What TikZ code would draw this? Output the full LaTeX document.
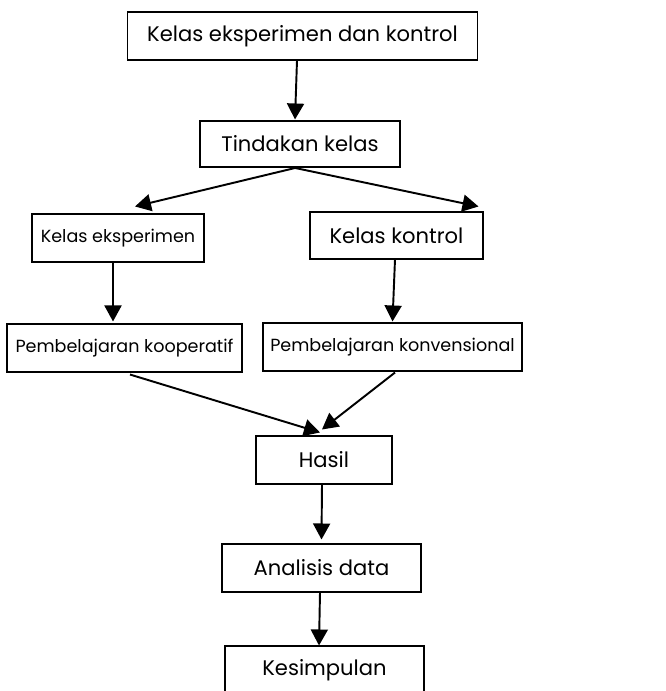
\documentclass[tikz,border=0pt]{standalone}
\usepackage{fontspec}
\setmainfont{Poppins}
\usetikzlibrary{arrows.meta}

\begin{document}
\begin{tikzpicture}[x=0.02cm,y=-0.02cm,
    box/.style={draw,line width=0.6pt,inner sep=0pt,minimum height=0.96cm,
      font=\fontsize{12}{14}\selectfont},
    smallbox/.style={box,font=\fontsize{10}{12}\selectfont},
    arr/.style={-{Triangle[length=0.32cm,width=0.34cm]},line width=1.1pt}]
    \useasboundingbox (0,0) rectangle (666,691);
    \node[box,minimum width=7.02cm] (kelas) at (302.5,36) {Kelas eksperimen dan kontrol};
    \node[box,minimum width=4cm,minimum height=0.92cm] (tindakan) at (300,144) {Tindakan kelas};
    \node[smallbox,minimum width=3.44cm] (eksperimen) at (118,238) {Kelas eksperimen};
    \node[box,minimum width=3.46cm,minimum height=0.94cm] (kontrol) at (396.5,235.5) {Kelas kontrol};
    \node[smallbox,minimum width=4.7cm] (kooperatif) at (124.5,348) {Pembelajaran kooperatif};
    \node[smallbox,minimum width=5.18cm] (konvensional) at (392.5,347) {Pembelajaran konvensional};
    \node[box,minimum width=2.72cm] (hasil) at (324,460) {Hasil};
    \node[box,minimum width=3.98cm] (analisis) at (321.5,568) {Analisis data};
    \node[box,minimum width=3.98cm] (kesimpulan) at (324.5,670) {Kesimpulan};
    \draw[arr] ([xshift=-0.11cm]kelas.south) -- ([xshift=-0.1cm,yshift=0.02cm]tindakan.north);
    \draw[arr] ([xshift=-0.06cm]tindakan.south) -- ([xshift=0.34cm,yshift=0.14cm]eksperimen.north);
    \draw[arr] ([xshift=-0.14cm]tindakan.south) -- ([xshift=-0.1cm,yshift=0.1cm]kontrol.north east);
    \draw[arr] ([xshift=-0.1cm]eksperimen.south) -- ([xshift=-0.23cm,yshift=0.04cm]kooperatif.north);
    \draw[arr] ([xshift=-0.03cm]kontrol.south) -- ([yshift=0.02cm]konvensional.north);
    \draw[arr] ([xshift=0.11cm,yshift=-0.04cm]kooperatif.south) -- ([xshift=-0.08cm,yshift=0.06cm]hasil.north);
    \draw[arr] ([xshift=0.05cm,yshift=-0.02cm]konvensional.south) -- ([xshift=-0.04cm,yshift=0.12cm]hasil.north);
    \draw[arr] ([xshift=-0.04cm]hasil.south) -- ([yshift=0.08cm]analisis.north);
    \draw[arr] ([xshift=-0.03cm]analisis.south) -- ([xshift=-0.11cm]kesimpulan.north);
\end{tikzpicture}
\end{document}
